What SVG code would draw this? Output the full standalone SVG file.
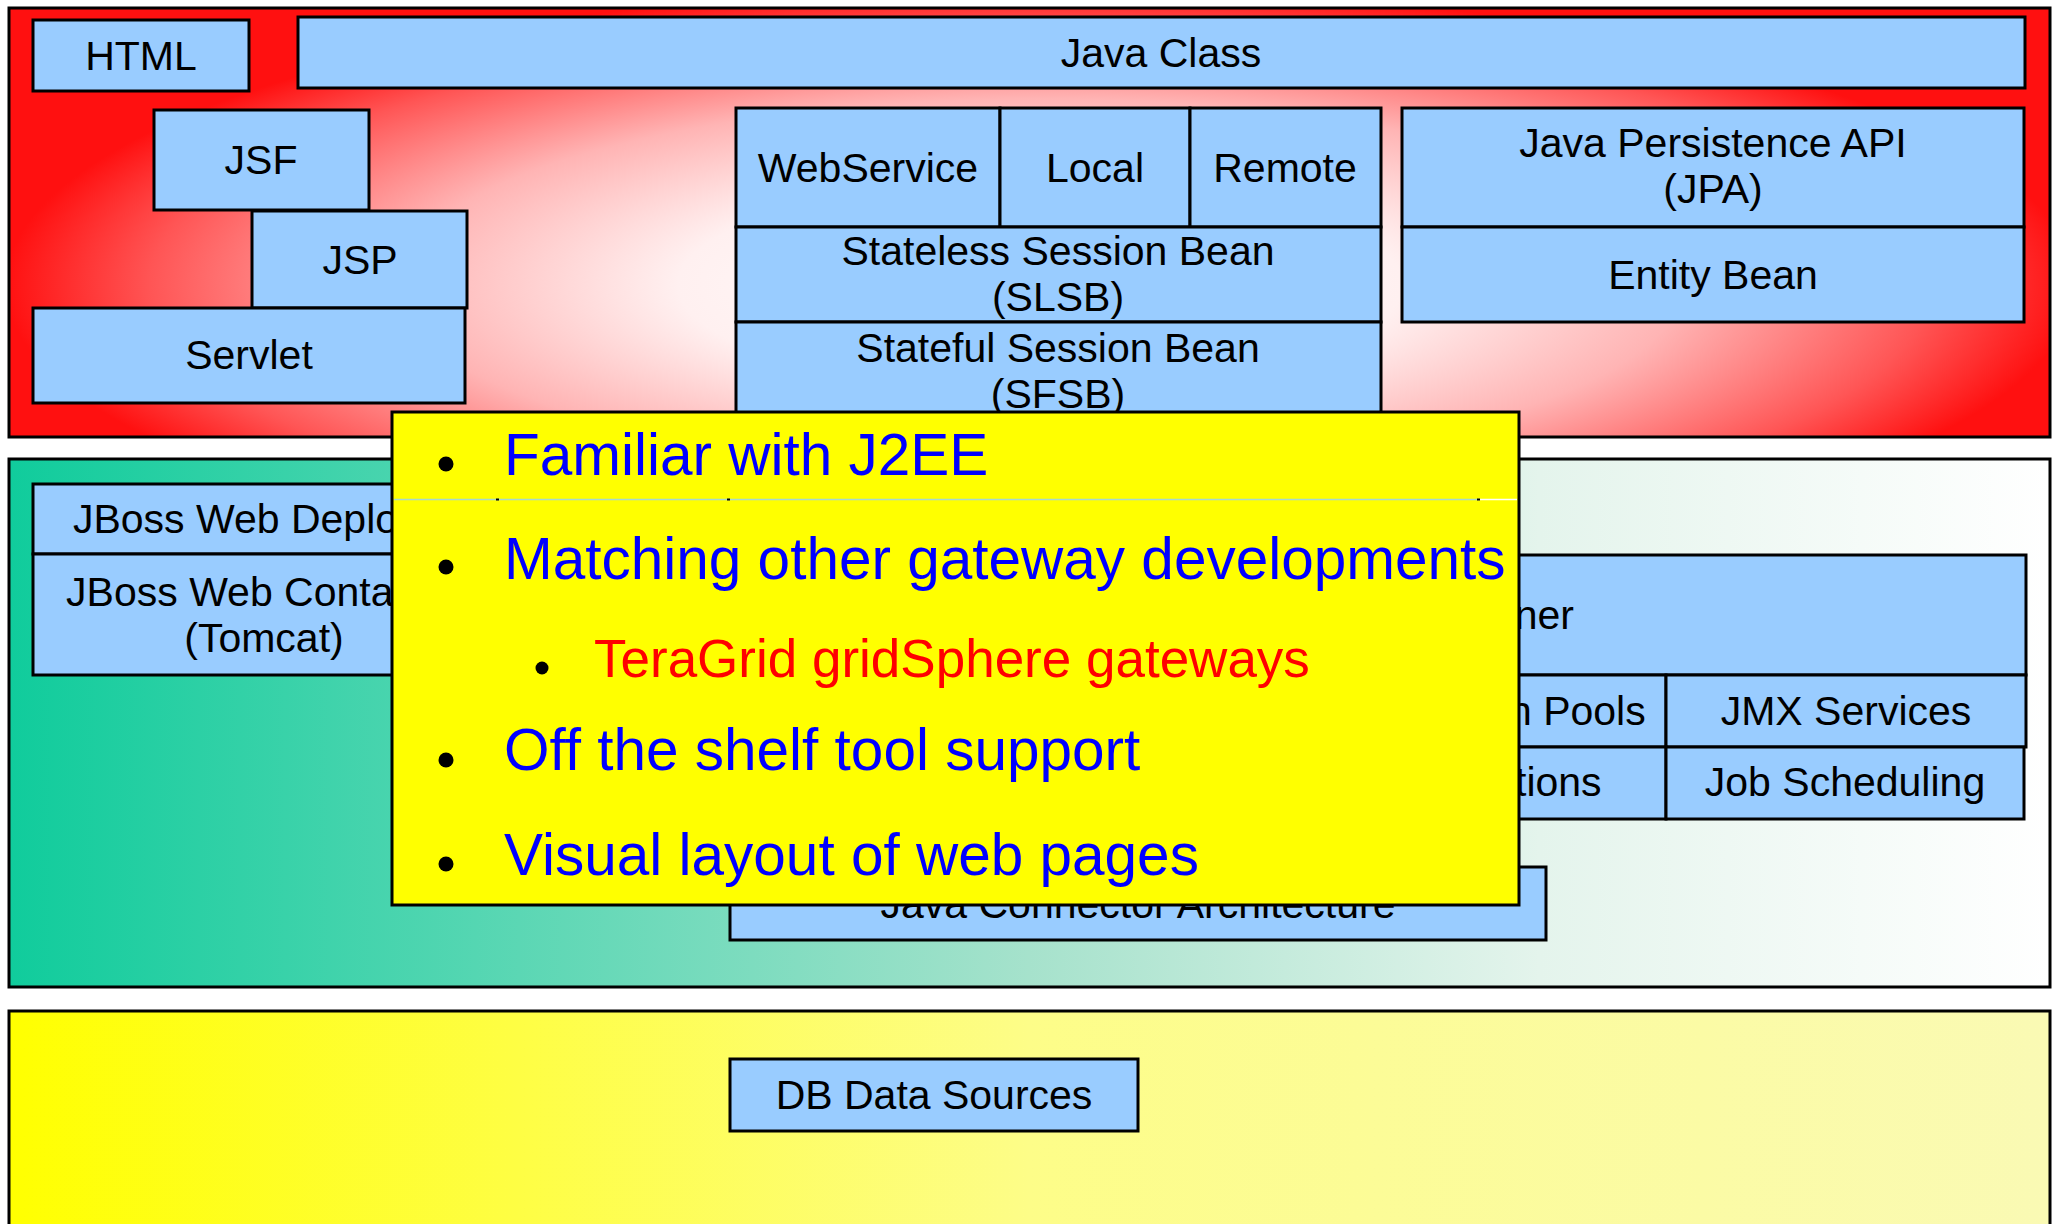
<svg xmlns="http://www.w3.org/2000/svg" width="2058" height="1224" viewBox="0 0 2058 1224">
<style>
.box{fill:#99ccff;stroke:#000;stroke-width:3}
.lbl{font-family:"Liberation Sans",Arial,sans-serif;font-size:41px;fill:#000;text-anchor:middle}
.pt{font-family:"Liberation Sans",Arial,sans-serif;font-size:58.5px;fill:#0000ff}
.sub{font-family:"Liberation Sans",Arial,sans-serif;font-size:53px;fill:#ff0000}
</style>
<defs>
<radialGradient id="gRed" gradientUnits="userSpaceOnUse" cx="0" cy="0" r="1" gradientTransform="translate(1040 285) scale(1035 300)">
<stop offset="0" stop-color="#ffffff"/>
<stop offset="0.35" stop-color="#fff0f0"/>
<stop offset="0.62" stop-color="#ffb4b4"/>
<stop offset="0.86" stop-color="#ff5555"/>
<stop offset="1" stop-color="#ff1010"/>
</radialGradient>
<linearGradient id="gGreen" x1="0" y1="0" x2="1" y2="0">
<stop offset="0" stop-color="#10cc9c"/>
<stop offset="0.5" stop-color="#a6e2cc"/>
<stop offset="0.75" stop-color="#e4f4ec"/>
<stop offset="1" stop-color="#ffffff"/>
</linearGradient>
<linearGradient id="gYellow" x1="0" y1="0" x2="1" y2="0">
<stop offset="0" stop-color="#ffff00"/>
<stop offset="0.5" stop-color="#fdfd88"/>
<stop offset="1" stop-color="#fafab4"/>
</linearGradient>
</defs>

<g id="panel-ejb">
<rect x="9" y="8" width="2041" height="429" fill="url(#gRed)" stroke="#000" stroke-width="3"/>
</g>
<g id="panel-services">
<rect x="9" y="459" width="2041" height="528" fill="url(#gGreen)" stroke="#000" stroke-width="3"/>
</g>
<g id="panel-data">
<rect x="9" y="1011" width="2041" height="230" fill="url(#gYellow)" stroke="#000" stroke-width="3"/>
</g>

<g id="html"><rect class="box" x="33" y="20" width="216" height="71"/><text class="lbl" x="141" y="70">HTML</text></g>
<g id="java-class"><rect class="box" x="298" y="17" width="1727" height="71"/><text class="lbl" x="1161" y="67">Java Class</text></g>
<g id="jsf"><rect class="box" x="154" y="110" width="215" height="100"/><text class="lbl" x="261" y="174">JSF</text></g>
<g id="jsp"><rect class="box" x="252" y="211" width="215" height="97"/><text class="lbl" x="360" y="274">JSP</text></g>
<g id="servlet"><rect class="box" x="33" y="308" width="432" height="95"/><text class="lbl" x="249" y="369">Servlet</text></g>
<g id="webservice"><rect class="box" x="736" y="108" width="264" height="119"/><text class="lbl" x="868" y="182">WebService</text></g>
<g id="local"><rect class="box" x="1000" y="108" width="190" height="119"/><text class="lbl" x="1095" y="182">Local</text></g>
<g id="remote"><rect class="box" x="1190" y="108" width="191" height="119"/><text class="lbl" x="1285" y="182">Remote</text></g>
<g id="slsb"><rect class="box" x="736" y="227" width="645" height="95"/><text class="lbl" x="1058" y="265">Stateless Session Bean</text><text class="lbl" x="1058" y="311">(SLSB)</text></g>
<g id="sfsb"><rect class="box" x="736" y="322" width="645" height="95"/><text class="lbl" x="1058" y="362">Stateful Session Bean</text><text class="lbl" x="1058" y="408">(SFSB)</text></g>
<g id="jpa"><rect class="box" x="1402" y="108" width="622" height="119"/><text class="lbl" x="1713" y="157">Java Persistence API</text><text class="lbl" x="1713" y="203">(JPA)</text></g>
<g id="entity-bean"><rect class="box" x="1402" y="227" width="622" height="95"/><text class="lbl" x="1713" y="289">Entity Bean</text></g>

<g id="web-deployer"><rect class="box" x="33" y="484" width="462" height="70"/><text class="lbl" x="264" y="533">JBoss Web Deployer</text></g>
<g id="web-container"><rect class="box" x="33" y="554" width="462" height="121"/><text class="lbl" x="264" y="606">JBoss Web Container</text><text class="lbl" x="264" y="652">(Tomcat)</text></g>
<g id="microcontainer"><rect class="box" x="730" y="555" width="1296" height="120"/><text class="lbl" x="1378" y="629">JBoss Microcontainer</text></g>
<g id="connection-pools"><rect class="box" x="1303" y="675" width="363" height="72"/><text class="lbl" x="1485" y="725">Connection Pools</text></g>
<g id="jmx-services"><rect class="box" x="1666" y="675" width="360" height="72"/><text class="lbl" x="1846" y="725">JMX Services</text></g>
<g id="transactions"><rect class="box" x="1303" y="747" width="363" height="72"/><text class="lbl" x="1485" y="796">Transactions</text></g>
<g id="job-scheduling"><rect class="box" x="1666" y="747" width="358" height="72"/><text class="lbl" x="1845" y="796">Job Scheduling</text></g>
<g id="jca"><rect class="box" x="730" y="867" width="816" height="73"/><text class="lbl" x="1138" y="918">Java Connector Architecture</text></g>
<g id="db-data-sources"><rect class="box" x="730" y="1059" width="408" height="72"/><text class="lbl" x="934" y="1109">DB Data Sources</text></g>

<g id="connectors"></g>

<g id="callout">
<rect x="392" y="412" width="1127" height="493" fill="#ffff00" stroke="#000" stroke-width="3"/>
<line x1="394" y1="499.5" x2="1478" y2="499.5" stroke="#a8d8d0" stroke-width="1.5"/>
<line x1="1478" y1="499.5" x2="1517" y2="499.5" stroke="#ffffff" stroke-width="1.5"/>
<rect x="496" y="498.5" width="3" height="2" fill="#000"/>
<rect x="727" y="498.5" width="3" height="2" fill="#000"/>
<rect x="1477" y="498.5" width="3" height="2" fill="#000"/>
<circle cx="446" cy="464" r="7.5" fill="#000"/>
<text class="pt" x="504" y="475">Familiar with J2EE</text>
<circle cx="446" cy="567" r="7.5" fill="#000"/>
<text class="pt" x="504" y="579">Matching other gateway developments</text>
<circle cx="542" cy="668" r="6.5" fill="#000"/>
<text class="sub" x="594" y="677">TeraGrid gridSphere gateways</text>
<circle cx="446" cy="760" r="7.5" fill="#000"/>
<text class="pt" x="504" y="770">Off the shelf tool support</text>
<circle cx="446" cy="864" r="7.5" fill="#000"/>
<text class="pt" x="504" y="875">Visual layout of web pages</text>
</g>
</svg>
